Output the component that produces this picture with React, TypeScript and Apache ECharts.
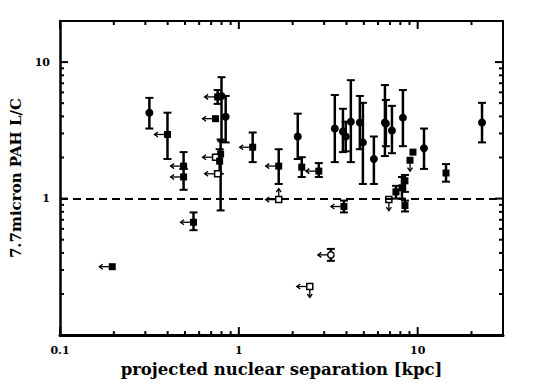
import { useEffect, useRef } from 'react';
import * as echarts from 'echarts';

// projected nuclear separation [kpc]
const separation = [
  0.196, 0.316, 0.399, 0.491, 0.491, 0.558,
  0.761, 0.80, 0.741, 0.844, 0.791, 0.741, 0.781, 0.761,
  1.195, 1.671, 1.671, 2.135, 2.248, 2.80, 3.87, 3.27, 2.493,
  3.44, 3.82, 3.96, 4.23, 4.75, 4.94, 5.69, 6.56, 6.64, 7.18, 8.27,
  10.85, 9.41, 9.06, 14.4, 22.9, 6.90, 7.56, 8.17, 8.49, 8.49,
];
// 7.7 micron PAH L/C
const ratio = [
  0.317, 4.26, 2.95, 1.73, 1.44, 0.671,
  5.56, 5.65, 3.85, 3.98, 2.12, 2.01, 1.88, 1.52,
  2.38, 1.73, 0.983, 2.85, 1.70, 1.59, 0.875, 0.387, 0.227,
  3.26, 3.10, 2.85, 3.66, 3.61, 2.58, 1.95, 3.61, 3.54, 3.15, 3.92,
  2.34, 2.19, 1.91, 1.54, 3.61, 0.983, 1.12, 1.20, 1.35, 0.890,
];
const ratioLow: (number | null)[] = [
  null, 3.26, 1.95, 1.65, 1.16, 0.587,
  4.94, 2.63, null, 2.58, 0.819, null, 1.52, null,
  1.85, 1.28, null, 1.95, 1.44, 1.44, 0.792, 0.350, null,
  1.85, 2.19, 2.22, 1.85, 2.30, 1.28, 1.28, 2.05, 2.42, 2.15, 2.42,
  1.65, null, null, 1.33, 2.58, null, 1.0, 1.0, 1.12, 0.805,
];
const ratioHigh: (number | null)[] = [
  null, 5.47, 4.26, 2.19, 1.65, 0.792,
  6.24, 7.75, null, 5.65, 2.71, null, 2.30, null,
  3.05, 2.30, null, 4.19, 2.01, 1.82, 0.967, 0.428, null,
  5.74, 4.55, 3.66, 7.37, 5.65, 5.03, 2.85, 6.79, 5.28, 4.78, 6.24,
  3.26, null, null, 1.79, 5.03, null, 1.24, 1.44, 1.49, 0.967,
];
// c = filled circle, s = filled square, os = open square, oc = open circle
const marker = [
  's', 'c', 's', 's', 's', 's',
  's', 'c', 's', 'c', 's', 'os', 's', 'os',
  's', 's', 'os', 'c', 's', 's', 's', 'oc', 'os',
  'c', 'c', 'c', 'c', 'c', 'c', 'c', 'c', 'c', 'c', 'c',
  'c', 's', 's', 's', 'c', 'os', 's', 's', 's', 's',
];
// L = upper limit in separation, U/D = lower/upper limit in ratio
const limit = [
  'L', '', 'L', 'L', 'L', 'L',
  'L', '', 'L', '', '', 'L', '', 'L',
  'L', 'L', 'LU', '', '', 'L', 'L', 'L', 'LD',
  '', '', '', '', '', '', '', '', '', '', '',
  '', '', 'D', '', '', 'D', '', '', '', '',
];

const xMajorTicks = [0.1, 1, 10];
const xMinorTicks = [0.2, 0.3, 0.4, 0.5, 0.6, 0.7, 0.8, 0.9, 2, 3, 4, 5, 6, 7, 8, 9, 20];
const yMajorTicks = [1, 10];
const yMinorTicks = [0.2, 0.3, 0.4, 0.5, 0.6, 0.7, 0.8, 0.9, 2, 3, 4, 5, 6, 7, 8, 9];
const xTickLabels = ['0.1', '1', '10'];
const yTickLabels = ['1', '10'];
const referenceLevel = 1;

const BLACK = '#000';
const SERIF = "'DejaVu Serif', serif";

function ln(x1: number, y1: number, x2: number, y2: number, w: number) {
  return { type: 'line', shape: { x1, y1, x2, y2 }, style: { stroke: BLACK, lineWidth: w } };
}

export default function App() {
  const ref = useRef<HTMLDivElement>(null);
  useEffect(() => {
    if (!ref.current) return;
    const chart = echarts.init(ref.current, undefined, { renderer: 'svg' });
    const fmt = (list: string[]) => (v: number) => {
      const s = String(+Number(v).toPrecision(6));
      return list.includes(s) ? s : '';
    };
    const option: any = {
      animation: false,
      backgroundColor: '#fff',
      grid: { left: 58, right: 37, top: 21, bottom: 44 },
      xAxis: [
        {
          type: 'log', min: 0.1, max: 30, position: 'bottom',
          axisLine: { show: true, lineStyle: { color: BLACK, width: 3 } },
          axisTick: { show: false }, splitLine: { show: false },
          axisLabel: { formatter: fmt(xTickLabels), color: BLACK, fontFamily: SERIF, fontWeight: 'bold', fontSize: 11, margin: 10 },
          name: 'projected nuclear separation [kpc]', nameLocation: 'middle', nameGap: 19,
          nameTextStyle: { fontFamily: SERIF, fontWeight: 'bold', fontSize: 16.5, color: BLACK },
        },
        {
          type: 'log', min: 0.1, max: 30, position: 'top',
          axisLine: { show: true, lineStyle: { color: BLACK, width: 2 } },
          axisTick: { show: false }, axisLabel: { show: false }, splitLine: { show: false },
        },
      ],
      yAxis: [
        {
          type: 'log', min: 0.1, max: 20, position: 'left',
          axisLine: { show: true, lineStyle: { color: BLACK, width: 2.5 } },
          axisTick: { show: false }, splitLine: { show: false },
          axisLabel: { formatter: fmt(yTickLabels), color: BLACK, fontFamily: SERIF, fontWeight: 'bold', fontSize: 11, margin: 10 },
          name: '7.7micron PAH L/C', nameLocation: 'middle', nameGap: 37, nameRotate: 90,
          nameTextStyle: { fontFamily: SERIF, fontWeight: 'bold', fontSize: 15, color: BLACK },
        },
        {
          type: 'log', min: 0.1, max: 20, position: 'right',
          axisLine: { show: true, lineStyle: { color: BLACK, width: 2 } },
          axisTick: { show: false }, axisLabel: { show: false }, splitLine: { show: false },
        },
      ],
      series: [
        {
          type: 'custom',
          name: 'ticks',
          xAxisIndex: 0, yAxisIndex: 0,
          clip: false, silent: true,
          data: [[1, 1]],
          renderItem: (params: any, api: any) => {
            const cs = params.coordSys;
            const left = cs.x, right = cs.x + cs.width, top = cs.y, bottom = cs.y + cs.height;
            const kids: any[] = [];
            const addX = (v: number, len: number) => {
              const px = api.coord([v, 1])[0];
              kids.push(ln(px, bottom, px, bottom - len, 2));
              kids.push(ln(px, top, px, top + len, 2));
            };
            const addY = (v: number, len: number) => {
              const py = api.coord([1, v])[1];
              kids.push(ln(left, py, left + len, py, 2));
              kids.push(ln(right, py, right - len, py, 2));
            };
            xMajorTicks.forEach((v) => addX(v, 8));
            xMinorTicks.forEach((v) => addX(v, 4));
            yMajorTicks.forEach((v) => addY(v, 8));
            yMinorTicks.forEach((v) => addY(v, 4));
            return { type: 'group', children: kids };
          },
          markLine: {
            silent: true, symbol: 'none', label: { show: false },
            lineStyle: { type: [8, 5], color: BLACK, width: 2 },
            data: [{ yAxis: referenceLevel }],
          },
        },
        {
          type: 'custom',
          name: 'galaxies',
          xAxisIndex: 0, yAxisIndex: 0,
          clip: false,
          data: separation.map((x, i) => [x, ratio[i]]),
          renderItem: (params: any, api: any) => {
            const i = params.dataIndex;
            const x = api.value(0);
            const y = api.value(1);
            const [cx, cy] = api.coord([x, y]);
            const kids: any[] = [];
            const lo = ratioLow[i];
            const hi = ratioHigh[i];
            if (lo != null && hi != null) {
              const yl = api.coord([x, lo])[1];
              const yh = api.coord([x, hi])[1];
              kids.push(ln(cx, yl, cx, yh, 2.5));
              kids.push(ln(cx - 4, yl, cx + 4, yl, 2));
              kids.push(ln(cx - 4, yh, cx + 4, yh, 2));
            }
            const lim = limit[i];
            if (lim.includes('L')) {
              const x0 = cx - 3, x1 = cx - 13;
              kids.push(ln(x0, cy, x1, cy, 1.3));
              kids.push({ type: 'polyline', shape: { points: [[x1 + 3.5, cy - 2.5], [x1, cy], [x1 + 3.5, cy + 2.5]] }, style: { stroke: BLACK, lineWidth: 1.3, fill: 'none' } });
            }
            if (lim.includes('U')) {
              const y0 = cy - 3, y1 = cy - 11;
              kids.push(ln(cx, y0, cx, y1, 1.3));
              kids.push({ type: 'polyline', shape: { points: [[cx - 2.5, y1 + 3.5], [cx, y1], [cx + 2.5, y1 + 3.5]] }, style: { stroke: BLACK, lineWidth: 1.3, fill: 'none' } });
            }
            if (lim.includes('D')) {
              const y0 = cy + 3, y1 = cy + 11;
              kids.push(ln(cx, y0, cx, y1, 1.3));
              kids.push({ type: 'polyline', shape: { points: [[cx - 2.5, y1 - 3.5], [cx, y1], [cx + 2.5, y1 - 3.5]] }, style: { stroke: BLACK, lineWidth: 1.3, fill: 'none' } });
            }
            const m = marker[i];
            if (m === 'c') {
              kids.push({ type: 'circle', shape: { cx, cy, r: 4 }, style: { fill: BLACK } });
            } else if (m === 's') {
              kids.push({ type: 'rect', shape: { x: cx - 3.5, y: cy - 3.5, width: 7, height: 7 }, style: { fill: BLACK } });
            } else if (m === 'os') {
              kids.push({ type: 'rect', shape: { x: cx - 3, y: cy - 3, width: 6, height: 6 }, style: { fill: '#fff', stroke: BLACK, lineWidth: 1.5 } });
            } else {
              kids.push({ type: 'circle', shape: { cx, cy, r: 3.2 }, style: { fill: '#fff', stroke: BLACK, lineWidth: 1.5 } });
            }
            return { type: 'group', children: kids };
          },
        },
      ],
    };
    chart.setOption(option);
    return () => chart.dispose();
  }, []);
  return <div ref={ref} style={{ width: 540, height: 383, position: 'fixed', left: 0, top: 0, background: '#fff' }} />;
}
